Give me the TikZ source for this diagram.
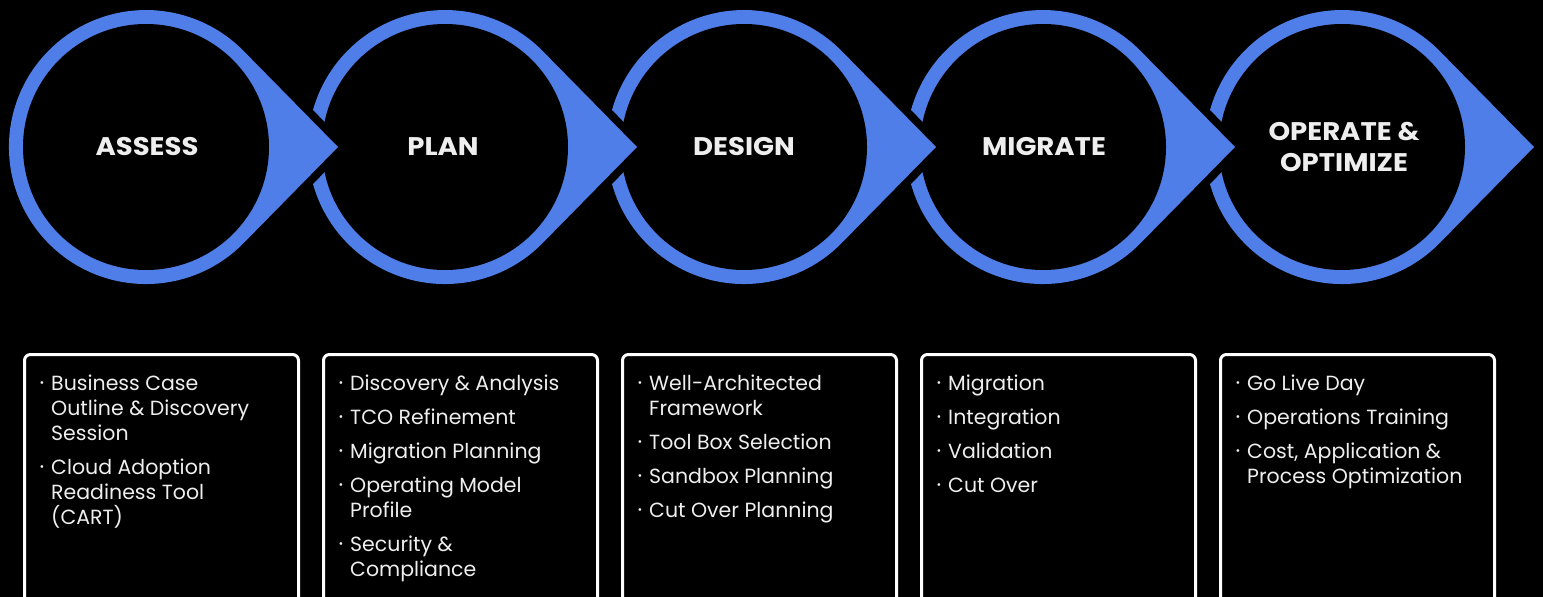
\documentclass[tikz,border=0pt]{standalone}
\usepackage{fontspec}
\setmainfont{Poppins}
\definecolor{ringblue}{RGB}{79,126,232}
\definecolor{txtwhite}{RGB}{238,238,238}
\newcommand\itm[1]{\hbox{\makebox[11pt][l]{\hspace{-0.5pt}\raisebox{0pt}{\fontsize{22}{22}\selectfont ·}}#1}}
\newcommand\cnt[1]{\hbox{\hspace{11pt}#1}}
\newcommand\gapv{\vskip9pt}
\newcommand\ttl[1]{\scalebox{1.08}[1]{#1}}
\tikzset{
  titletext/.style={text=txtwhite, font=\fontsize{25.5}{31}\selectfont\bfseries, align=center, inner sep=0},
  listtext/.style={text=txtwhite, font=\fontsize{20.5}{25}\selectfont, anchor=base west, inner sep=0},
  stagebox/.style={draw=white, line width=3pt, rounded corners=6pt, minimum width=274pt, minimum height=290pt, anchor=north west, inner sep=0, outer sep=0, fill=black},
}
\begin{document}
\begin{tikzpicture}[x=1pt,y=-1pt]
\fill[black] (0,0) rectangle (1543,597);
\useasboundingbox (0,0) rectangle (1543,597);
\clip (0,0) rectangle (1543,597);
% teardrop rings, drawn right to left so each arrow cuts the next ring
\foreach \c in {1342,1043,744,445,146}{
  \draw[black, line width=16pt, line join=miter]
    ({\c+192},147) -- ({\c+97.7},243) arc[start angle=44.47, end angle=315.53, radius=137] -- cycle;
  \fill[ringblue]
    ({\c+192},147) -- ({\c+97.7},243) arc[start angle=44.47, end angle=315.53, radius=137] -- cycle;
  \fill[black] (\c,147) circle[radius=123];
}
\node[titletext] (assess) at (147,147) {\ttl{ASSESS}};
\node[titletext] (plan) at (443,147) {\ttl{PLAN}};
\node[titletext] (design) at (744,147) {\ttl{DESIGN}};
\node[titletext] (migrate) at (1044,147) {\ttl{MIGRATE}};
\node[titletext] (operate) at (1344,147) {\ttl{OPERATE \&}\\\ttl{OPTIMIZE}};
% boxes
\node[stagebox] (b1) at (24.5,354.5) {};
\node[stagebox] (b2) at (323.5,354.5) {};
\node[stagebox] (b3) at (622.5,354.5) {};
\node[stagebox] (b4) at (921.5,354.5) {};
\node[stagebox] (b5) at (1220.5,354.5) {};
\node[listtext] (t1) at (40,390) {\vtop{\itm{Business Case}\cnt{Outline \& Discovery}\cnt{Session}\gapv
  \itm{Cloud Adoption}\cnt{Readiness Tool}\cnt{(CART)}}};
\node[listtext] (t2) at (339,390) {\vtop{\itm{Discovery \& Analysis}\gapv\itm{TCO Refinement}\gapv
  \itm{Migration Planning}\gapv\itm{Operating Model}\cnt{Profile}\gapv\itm{Security \&}\cnt{Compliance}}};
\node[listtext] (t3) at (638,390) {\vtop{\itm{Well-Architected}\cnt{Framework}\gapv\itm{Tool Box Selection}\gapv
  \itm{Sandbox Planning}\gapv\itm{Cut Over Planning}}};
\node[listtext] (t4) at (937,390) {\vtop{\itm{Migration}\gapv\itm{Integration}\gapv\itm{Validation}\gapv\itm{Cut Over}}};
\node[listtext] (t5) at (1236,390) {\vtop{\itm{Go Live Day}\gapv\itm{Operations Training}\gapv
  \itm{Cost, Application \&}\cnt{Process Optimization}}};
\end{tikzpicture}
\end{document}
